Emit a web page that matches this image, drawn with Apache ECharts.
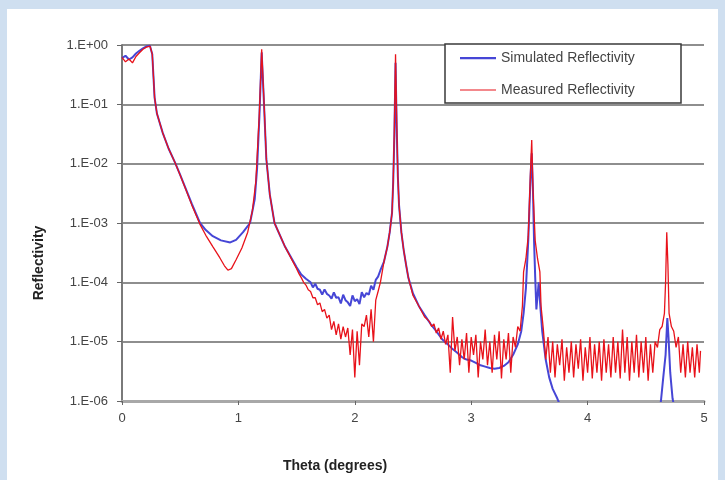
<!DOCTYPE html>
<html><head><meta charset="utf-8">
<script src="https://cdn.jsdelivr.net/npm/echarts@6/dist/echarts.min.js"></script>
<style>
html,body{margin:0;padding:0;background:#cfdff0;}
#wrap{position:relative;width:725px;height:480px;background:#cfdff0;overflow:hidden;}
#panel{position:absolute;left:7px;top:9px;width:711px;height:471px;background:#fff;}
#c{position:absolute;left:0;top:0;width:725px;height:480px;}
</style>
</head><body>
<div id="wrap"><div id="panel"></div><div id="c"></div></div>
<script>
// ---- data ----
const xTicks = [0, 1, 2, 3, 4, 5];
const yTickExponents = [0, -1, -2, -3, -4, -5, -6];
const seriesNames = ['Simulated Reflectivity', 'Measured Reflectivity'];

const simTheta = [
  0.00,0.03,0.06,0.09,0.12,0.15,0.18,0.21,0.24,0.25,0.26,0.27,0.28,0.30,0.35,0.40,0.455,0.50,0.55,0.60,
  0.67,0.72,0.78,0.85,0.93,0.98,1.04,1.10,1.14,1.16,1.18,1.20,1.22,1.24,1.27,1.31,1.40,1.50,
  1.54,1.58,1.62,1.64,1.66,1.68,1.70,1.72,1.74,1.76,1.78,1.80,1.82,1.84,1.86,1.88,1.90,1.92,1.94,1.96,1.98,
  2.00,2.02,2.04,2.06,2.08,2.10,2.12,2.14,2.16,2.18,2.20,2.22,2.25,2.28,2.30,2.32,2.33,2.34,2.35,2.36,2.37,
  2.38,2.40,2.42,2.44,2.46,2.50,2.55,2.60,2.65,2.70,2.75,2.80,2.84,2.88,2.92,2.96,3.00,3.04,3.08,3.12,
  3.16,3.20,3.24,3.28,3.32,3.36,3.40,3.43,3.45,3.47,3.49,3.51,3.52,3.53,3.54,3.55,3.56,3.57,3.58,3.59,
  3.61,3.64,3.67,3.70,3.74,3.78,3.85,4.60,4.63,4.65,4.67,4.685,4.695,4.71,4.72,4.73,4.75,4.80
];
const simR = [
  0.60,0.66,0.57,0.62,0.72,0.80,0.88,0.95,0.97,0.95,0.70,0.30,0.13,0.07,0.033,0.018,0.0105,0.0065,0.0037,0.0021,
  1.0e-3,7.6e-4,6.0e-4,5.1e-4,4.7e-4,5.2e-4,7.0e-4,1.0e-3,2.5e-3,8e-3,0.06,0.75,0.10,0.012,3e-3,1.0e-3,4.0e-4,1.8e-4,
  1.35e-4,1.15e-4,1.0e-4,8.2e-5,9.5e-5,7.8e-5,7.5e-5,6.2e-5,7.6e-5,6.4e-5,6.0e-5,5.3e-5,6.8e-5,5.5e-5,5.6e-5,4.4e-5,6.2e-5,5.0e-5,4.6e-5,4.0e-5,6.0e-5,
  4.8e-5,5.2e-5,4.3e-5,6.8e-5,5.6e-5,6.6e-5,6.2e-5,8.8e-5,7.5e-5,1.1e-4,1.25e-4,1.6e-4,2.2e-4,4e-4,7e-4,1.5e-3,5e-3,0.03,0.5,0.04,6e-3,
  2e-3,7e-4,3.5e-4,2e-4,1.2e-4,6.5e-5,4e-5,2.8e-5,2e-5,1.5e-5,1.1e-5,9e-6,7.5e-6,6.5e-6,5.5e-6,5e-6,4.8e-6,4.4e-6,4e-6,3.8e-6,
  3.6e-6,3.5e-6,3.6e-6,3.9e-6,4.5e-6,6e-6,9e-6,1.5e-5,3e-5,8e-5,5e-4,6e-3,0.015,4e-3,5e-4,1.2e-4,3.5e-5,6e-5,1e-4,5e-5,
  1.5e-5,5e-6,2.5e-6,1.6e-6,1.1e-6,7e-7,5e-7,5e-7,1e-6,2.5e-6,6e-6,2.5e-5,1.2e-5,3e-6,1.8e-6,1.1e-6,7e-7,5e-7
];

const measTheta = [
  0.00,0.03,0.06,0.09,0.12,0.15,0.18,0.21,0.24,0.25,0.26,0.27,0.28,0.30,0.35,0.40,0.455,0.50,0.55,0.60,
  0.67,0.72,0.78,0.84,0.88,0.91,0.94,0.98,1.03,1.08,1.12,1.15,1.18,1.20,1.22,1.24,1.27,1.31,1.40,1.50,
  1.52,1.54,1.56,1.58,1.60,1.62,1.64,1.66,1.68,1.70,1.72,1.74,1.76,1.78,1.80,1.82,1.84,1.86,1.88,1.90,
  1.92,1.94,1.96,1.98,2.00,2.02,2.04,2.06,2.08,2.10,2.12,2.14,2.16,2.18,2.20,2.22,2.25,2.28,2.30,2.32,
  2.33,2.34,2.35,2.36,2.37,2.38,2.40,2.42,2.44,2.46,2.50,2.55,2.60,2.62,2.64,2.66,2.68,2.70,2.72,2.74,
  2.76,2.78,2.80,2.82,2.84,2.86,2.88,2.90,2.92,2.94,2.96,2.98,3.00,3.02,3.04,3.06,3.08,3.10,3.12,3.14,
  3.16,3.18,3.20,3.22,3.24,3.26,3.28,3.30,3.32,3.34,3.36,3.38,3.40,3.42,3.44,3.45,3.47,3.49,3.51,3.52,
  3.53,3.55,3.57,3.59,3.60,3.62,3.64,3.66,3.68,3.70,3.72,3.74,3.76,3.78,3.80,3.82,3.84,3.86,3.88,3.90,
  3.92,3.94,3.96,3.98,4.00,4.02,4.04,4.06,4.08,4.10,4.12,4.14,4.16,4.18,4.20,4.22,4.24,4.26,4.28,4.30,
  4.32,4.34,4.36,4.38,4.40,4.42,4.44,4.46,4.48,4.50,4.52,4.54,4.56,4.58,4.60,4.62,4.64,4.66,4.67,4.68,
  4.69,4.70,4.72,4.74,4.76,4.78,4.80,4.82,4.84,4.86,4.88,4.90,4.92,4.94,4.96,4.97
];
const measR = [
  0.62,0.52,0.58,0.50,0.64,0.74,0.85,0.92,0.96,0.94,0.70,0.30,0.13,0.07,0.033,0.018,0.0105,0.0064,0.0036,0.0020,
  9.5e-4,6.2e-4,4.0e-4,2.6e-4,1.9e-4,1.6e-4,1.7e-4,2.4e-4,3.8e-4,7e-4,1.6e-3,5e-3,0.07,0.85,0.11,0.012,3e-3,1.0e-3,4.0e-4,1.7e-4,
  1.4e-4,1.2e-4,1.0e-4,9e-5,7.5e-5,7e-5,5.5e-5,5.5e-5,4.2e-5,4.5e-5,3.2e-5,3.5e-5,2.5e-5,2.8e-5,1.6e-5,2.2e-5,1.3e-5,2.0e-5,1.1e-5,1.8e-5,
  1.2e-5,1.7e-5,6e-6,1.6e-5,2.5e-6,1.5e-5,4e-6,2e-5,1.8e-5,2.8e-5,1.2e-5,3.5e-5,1e-5,5e-5,7e-5,1e-4,2.2e-4,4e-4,7e-4,1.5e-3,
  5e-3,0.04,0.7,0.05,6e-3,2e-3,7e-4,3.5e-4,2e-4,1.2e-4,6e-5,4e-5,2.6e-5,2.4e-5,2.2e-5,1.8e-5,2e-5,1.4e-5,1.7e-5,1.1e-5,
  1.5e-5,9e-6,1.3e-5,3e-6,2.6e-5,7e-6,1.2e-5,4e-6,1.1e-5,5e-6,1.4e-5,3e-6,1.2e-5,6e-6,1.3e-5,2.5e-6,1e-5,5e-6,1.6e-5,4e-6,
  1e-5,3e-6,1.3e-5,5e-6,1.5e-5,2.4e-6,1.1e-5,5e-6,1.4e-5,3e-6,1.2e-5,8e-6,1.8e-5,1.5e-5,4e-5,1.5e-4,2.5e-4,6e-4,8e-3,0.025,
  4e-3,5e-4,2.5e-4,1.5e-4,4e-5,1.6e-5,5e-6,1.2e-5,3e-6,1e-5,2.5e-6,9e-6,4e-6,1.1e-5,2.2e-6,8e-6,3e-6,1e-5,2.5e-6,9e-6,
  3.5e-6,1.1e-5,2.2e-6,8e-6,3e-6,1.2e-5,2.4e-6,9e-6,3e-6,1e-5,2.2e-6,1.1e-5,3e-6,9e-6,2.5e-6,1.2e-5,3e-6,1e-5,2.4e-6,1.6e-5,
  3e-6,1.2e-5,2.2e-6,1e-5,3e-6,1.3e-5,2.5e-6,1e-5,3e-6,1.2e-5,2.2e-6,9e-6,3e-6,1e-5,8e-6,1.6e-5,1.8e-5,3e-5,1e-4,7e-4,
  2e-4,3e-5,1.8e-5,1.5e-5,8e-6,1.2e-5,3e-6,9e-6,2.5e-6,1e-5,3e-6,8e-6,2.5e-6,9e-6,3e-6,7e-6
];

// ---- build ----
const simData = simTheta.map((t, i) => [t, simR[i]]);
const measData = measTheta.map((t, i) => [t, measR[i]]);
const simColor = '#4646d6';
const measColor = '#e8121a';

function expLabel(v) {
  const e = Math.round(Math.log10(v));
  const a = Math.abs(e);
  return '1.E' + (e >= 0 ? '+' : '-') + (a < 10 ? '0' : '') + a;
}

// line-shaped legend icons (bounding box 36x14 kept by the corner move-to points)
const thickIcon = 'path://M0,0L0,0M36,14L36,14M0,6L36,6L36,8.2L0,8.2Z';
const thinIcon = 'path://M0,0L0,0M36,14L36,14M0,6.5L36,6.5L36,7.6L0,7.6Z';

const chart = echarts.init(document.getElementById('c'), null, {renderer: 'canvas'});
const font = 'Arial, "Liberation Sans", sans-serif';
chart.setOption({
  animation: false,
  backgroundColor: 'transparent',
  textStyle: {fontFamily: font},
  grid: {left: 122, right: 21, top: 45, bottom: 79, containLabel: false},
  xAxis: {
    type: 'value', min: xTicks[0], max: xTicks[xTicks.length - 1], interval: 1,
    axisLine: {show: true, onZero: false, lineStyle: {color: '#a8a8a8', width: 3}},
    axisTick: {show: true, length: 4, lineStyle: {color: '#666', width: 1}},
    axisLabel: {color: '#444', fontSize: 13, margin: 11, fontFamily: font},
    splitLine: {show: false}
  },
  yAxis: {
    type: 'log', logBase: 10,
    min: Math.pow(10, Math.min(...yTickExponents)), max: Math.pow(10, Math.max(...yTickExponents)),
    interval: 1,
    axisLine: {show: true, lineStyle: {color: '#7a7a7a', width: 2}},
    axisTick: {show: true, length: 5, lineStyle: {color: '#666', width: 1}},
    axisLabel: {color: '#444', fontSize: 13, margin: 14, fontFamily: font, formatter: expLabel},
    splitLine: {show: true, lineStyle: {color: '#8e8e8e', width: 2}}
  },
  legend: {
    data: [
      {name: seriesNames[0], icon: thickIcon, itemStyle: {color: simColor}},
      {name: seriesNames[1], icon: thinIcon, itemStyle: {color: measColor}}
    ],
    orient: 'vertical', left: 460, top: 51, z: 20,
    itemWidth: 36, itemHeight: 14, itemGap: 18,
    textStyle: {fontSize: 14, color: '#444', fontFamily: font},
    padding: 0
  },
  graphic: [
    {type: 'rect', shape: {x: 445, y: 44, width: 236, height: 59},
     style: {fill: '#fff', stroke: '#3a3a3a', lineWidth: 1.5}, z: 1, silent: true},
    {type: 'text', x: 335, y: 466, z: 100,
     style: {text: 'Theta (degrees)', font: 'bold 14px ' + font, fill: '#222', textAlign: 'center', textVerticalAlign: 'middle'}},
    {type: 'text', x: 39, y: 263, rotation: Math.PI / 2, z: 100,
     style: {text: 'Reflectivity', font: 'bold 14px ' + font, fill: '#222', textAlign: 'center', textVerticalAlign: 'middle'}}
  ],
  series: [
    {name: seriesNames[0], type: 'line', data: simData, symbol: 'none', clip: true,
     lineStyle: {color: simColor, width: 2}, itemStyle: {color: simColor}, z: 2},
    {name: seriesNames[1], type: 'line', data: measData, symbol: 'none', clip: true,
     lineStyle: {color: measColor, width: 1.3}, itemStyle: {color: measColor}, z: 3}
  ]
});
</script>
</body></html>
